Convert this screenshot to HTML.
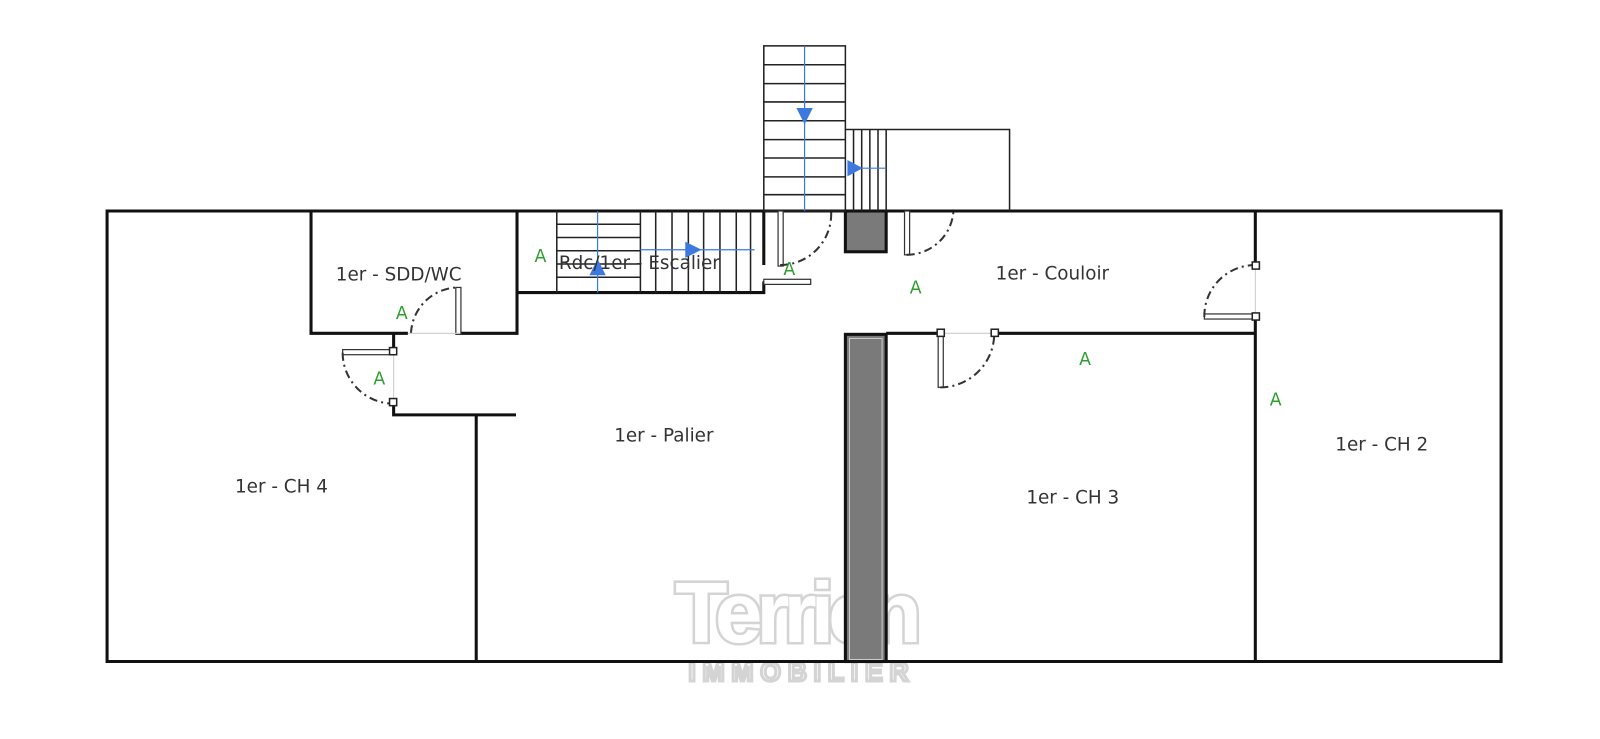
<!DOCTYPE html>
<html><head><meta charset="utf-8"><style>
html,body{margin:0;padding:0;background:#fff;}
svg{display:block}
text{font-family:"DejaVu Sans","Liberation Sans",sans-serif;}
</style></head><body>
<svg width="1600" height="739" viewBox="0 0 1569 725" preserveAspectRatio="none" xmlns="http://www.w3.org/2000/svg">
<rect width="1569" height="725" fill="#fff"/>
<!-- watermark -->
<text x="783" y="630" text-anchor="middle" font-size="84" font-weight="bold" fill="#fff" stroke="#d4d4d4" stroke-width="5" style="font-family:'Liberation Sans',sans-serif" textLength="242">Terrien</text>
<text x="783" y="630" text-anchor="middle" font-size="84" font-weight="bold" fill="#fff" style="font-family:'Liberation Sans',sans-serif" textLength="242">Terrien</text>
<text x="783" y="668" text-anchor="middle" font-size="26" font-weight="bold" fill="#fff" stroke="#d4d4d4" stroke-width="3" style="font-family:'Liberation Sans',sans-serif" textLength="216">IMMOBILIER</text>

<g stroke="#111" fill="none" stroke-width="3">
<path d="M105 207 H1472 V649 H105 Z"/>
<path d="M305 207 V327 H400"/>
<path d="M450 327 H507 V207"/>
<path d="M386 327 V345"/>
<path d="M386 395 V407 H506"/>
<path d="M467 407 V649"/>
<path d="M507 287 H749 V276"/>
<path d="M749 207 V260"/>
<path d="M869 327 H922"/>
<path d="M975 327 H1231"/>
<path d="M1231 207 V260"/>
<path d="M1231 310 V649"/>
</g>
<rect x="829" y="328" width="40" height="321" fill="#7a7a7a" stroke="#111" stroke-width="3"/>
<rect x="833" y="332" width="32" height="315" fill="none" stroke="#ccc" stroke-width="1"/>
<rect x="829" y="207" width="40" height="40" fill="#7a7a7a" stroke="#111" stroke-width="3"/>

<g stroke="#222" stroke-width="1.5" fill="none">
<rect x="749" y="45" width="80" height="162"/>
<path d="M749 63.5H829M749 82H829M749 100H829M749 118.5H829M749 137H829M749 155H829M749 173.5H829M749 191H829"/>
<path d="M829 127 H990 V207"/>
<path d="M837 127V207M845 127V207M853 127V207M861 127V207M869 127V207"/>
<path d="M546 207V287M628 207V287"/>
<path d="M546 220H628M546 233H628M546 246H628M546 259H628M546 272H628"/>
<path d="M643 207V287M659 207V287M675 207V287M690 207V287M706 207V287M722 207V287M736 207V287"/>
</g>
<g stroke="#3c78e0" stroke-width="1.2" fill="none">
<path d="M789 45V207"/><path d="M833 165H869"/>
<path d="M586 207V287"/><path d="M628 245H740"/>
</g>
<g fill="#3c78e0">
<path d="M781 106H797L789 122Z"/>
<path d="M831 157V173L846 165Z"/>
<path d="M578 270H594L586 254Z"/>
<path d="M672 237V253L688 245Z"/>
</g>

<g stroke="#333" stroke-width="1.2" fill="#fff">
<rect x="447" y="282" width="5" height="46"/>
<rect x="336" y="343" width="50" height="5"/>
<rect x="763" y="207" width="5" height="54"/>
<rect x="749" y="274" width="46" height="5"/>
<rect x="887" y="207" width="5" height="43"/>
<rect x="920" y="327" width="5" height="53"/>
<rect x="1181" y="308" width="50" height="5"/>
</g>
<g stroke="#333" stroke-width="2" fill="none" stroke-dasharray="8 4 2 4">
<path d="M403 327 A47 47 0 0 1 450 282"/>
<path d="M336 346 A50 50 0 0 0 386 396"/>
<path d="M765 260 A50 50 0 0 0 815 207"/>
<path d="M889 250 A46 46 0 0 0 935 207"/>
<path d="M922 380 A53 53 0 0 0 975 327"/>
<path d="M1181 311 A50 50 0 0 1 1231 260"/>
</g>
<g stroke="#ccc" stroke-width="1"><path d="M400 327H450M386 345V395M922 327H975M1231 260V310"/></g>
<g fill="#fff" stroke="#222" stroke-width="1.5">
<rect x="382" y="341" width="7" height="7"/><rect x="382" y="391" width="7" height="7"/>
<rect x="919" y="323" width="7" height="7"/><rect x="972" y="323" width="7" height="7"/>
<rect x="1228" y="257" width="7" height="7"/><rect x="1228" y="307" width="7" height="7"/>
</g>

<g font-size="18" fill="#333">
<text x="391" y="275" text-anchor="middle">1er - SDD/WC</text>
<text x="627" y="264" text-anchor="middle">Rdc/1er - Escalier</text>
<text x="1032" y="274" text-anchor="middle">1er - Couloir</text>
<text x="651" y="433" text-anchor="middle">1er - Palier</text>
<text x="276" y="483" text-anchor="middle">1er - CH 4</text>
<text x="1052" y="494" text-anchor="middle">1er - CH 3</text>
<text x="1355" y="442" text-anchor="middle">1er - CH 2</text>
</g>
<g font-size="17" fill="#2e9e2e" text-anchor="middle">
<text x="394" y="313">A</text>
<text x="372" y="377">A</text>
<text x="530" y="257">A</text>
<text x="774" y="270">A</text>
<text x="898" y="288">A</text>
<text x="1064" y="358">A</text>
<text x="1251" y="398">A</text>
</g>
</svg>
</body></html>
